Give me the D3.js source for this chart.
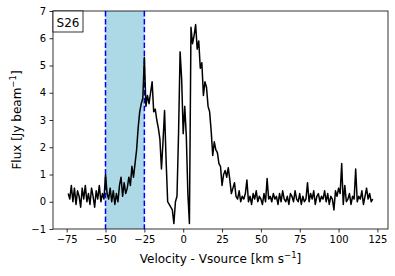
<!DOCTYPE html>
<html>
<head>
<meta charset="utf-8">
<script src="https://cdn.jsdelivr.net/npm/d3@7"></script>
<style>
  body { margin: 0; background: #fff; }
  svg text { font-family: "DejaVu Sans", sans-serif; }
</style>
</head>
<body>
<div id="chart"></div>
<script>
// velocity channels (km/s), start and step
var velStart = -74;
var velStep = 1;
// flux per channel (Jy/beam)
var flux = [
  0.3, 0.1, 0.6, 0.0, 0.5, -0.1, 0.4, 0.2, -0.2, 0.5,
  0.1, 0.6, 0.0, 0.3, -0.1, 0.5, 0.2, -0.2, 0.4, 0.1,
  0.6, 0.0, 0.3, 0.1,
  // -50
  1.0, 0.3, 0.1, 0.5, 0.0, 0.4, -0.1, 0.3, 0.0, 0.6,
  // -40
  0.9, 0.2, 0.7, 0.3, 0.5, 0.9, 0.6, 1.3, 0.9, 1.4,
  // -30
  1.9, 2.7, 3.3, 3.6, 3.8, 5.3, 3.5, 3.9, 3.6, 4.0,
  // -20
  4.4, 3.3, 3.4, 3.0, 2.7, 2.3, 1.2, 2.2, 3.35, 1.5,
  // -10
  0.0, -0.1, -0.2, -0.3, -0.8, 0.0, 0.2, 2.5, 5.5, 4.5,
  // 0
  2.5, 3.5, 2.4, 0.3, -0.8, 6.4, 5.8, 6.1, 6.5, 5.6,
  // 10
  5.9, 4.9, 5.1, 3.9, 4.4, 4.2, 3.5, 3.3, 2.6, 1.7,
  // 20
  2.2, 1.9, 1.8, 1.4, 1.3, 0.6, 1.0, 1.15, 0.9, 1.25,
  // 30
  0.8, 0.3, 0.5, 0.7, 0.2, 0.1, 0.4, 0.0, 0.2, 0.1,
  // 40
  0.3, 0.8, 0.0, 0.2, -0.1, 0.3, 0.1, 0.4, 0.0, 0.2,
  // 50
  0.1, -0.1, 0.3, 0.0, 0.85, 0.1, 0.2, 0.0, 0.3, 0.1,
  // 60
  0.2, -0.1, 0.3, 0.0, 0.4, 0.1, 0.0, 0.2, -0.1, 0.3,
  // 70
  0.2, 0.0, 0.4, 0.1, 0.0, 0.3, -0.1, 0.2, 0.0, 0.1,
  // 80
  0.7, 0.0, 0.3, 0.1, 0.4, -0.1, 0.2, 0.3, 0.0, 0.2,
  // 90
  0.1, 0.4, 0.0, 0.3, -0.1, 0.2, 0.1, -0.3, 0.4, 0.2,
  // 100
  0.5, 0.3, 1.4, -0.1, 0.6, 0.0, 0.1, 0.3, -0.1, 0.2,
  // 110
  0.1, 1.2, 0.0, 0.2, 0.1, 0.4, -0.1, 0.2, 0.5, 0.1,
  // 120
  0.3, 0.0, 0.1
];
var xTicks = [-75, -50, -25, 0, 25, 50, 75, 100, 125];
var yTicks = [-1, 0, 1, 2, 3, 4, 5, 6, 7];
var band = [-50, -25];
var sourceName = "S26";

var data = flux.map(function (f, i) {
  return { v: velStart + i * velStep, f: f };
});

var width = 395, height = 276;
var margin = { top: 11, right: 7, bottom: 47, left: 53 };
var w = width - margin.left - margin.right,
  h = height - margin.top - margin.bottom;

var svg = d3.select("#chart").append("svg")
  .attr("width", width)
  .attr("height", height);

var g = svg.append("g")
  .attr("transform", "translate(" + margin.left + "," + margin.top + ")");

// matplotlib style 5% padding on the x range
var vExt = d3.extent(data, function (d) { return d.v; });
var pad = (vExt[1] - vExt[0]) * 0.05;
var x = d3.scaleLinear().domain([vExt[0] - pad, vExt[1] + pad]).range([0, w]);
var y = d3.scaleLinear().domain([-1, 7]).range([h, 0]);

var fmt = function (d) { return String(d).replace("-", "\u2212"); };

// shaded velocity window
g.append("rect")
  .attr("x", x(band[0]))
  .attr("y", 0)
  .attr("width", x(band[1]) - x(band[0]))
  .attr("height", h)
  .attr("fill", "#add8e6");

g.selectAll(".edge")
  .data(band)
  .enter()
  .append("line")
  .attr("x1", function (d) { return x(d); })
  .attr("x2", function (d) { return x(d); })
  .attr("y1", 0)
  .attr("y2", h)
  .attr("stroke", "#0000ff")
  .attr("stroke-width", 1.5)
  .attr("stroke-dasharray", "5.5,2.4");

// spectrum
var line = d3.line()
  .x(function (d) { return x(d.v); })
  .y(function (d) { return y(d.f); });

g.append("path")
  .datum(data)
  .attr("d", line)
  .attr("fill", "none")
  .attr("stroke", "#000")
  .attr("stroke-width", 1.5)
  .attr("stroke-linejoin", "round");

// axes
var xAxis = g.append("g")
  .attr("transform", "translate(0," + h + ")")
  .call(d3.axisBottom(x).tickValues(xTicks).tickFormat(fmt).tickSizeOuter(0).tickSize(3.5).tickPadding(3.5));
var yAxis = g.append("g")
  .call(d3.axisLeft(y).tickValues(yTicks).tickFormat(fmt).tickSizeOuter(0).tickSize(3.5).tickPadding(3.5));

[xAxis, yAxis].forEach(function (a) {
  a.select(".domain").remove();
  a.selectAll("text").attr("font-size", 10).attr("fill", "#000")
    .style("font-family", "DejaVu Sans, sans-serif");
  a.selectAll("line").attr("stroke", "#000").attr("stroke-width", 0.8);
});

// frame
g.append("rect")
  .attr("width", w)
  .attr("height", h)
  .attr("fill", "none")
  .attr("stroke", "#000")
  .attr("stroke-width", 0.8);

// source label box
var lbl = g.append("g");
lbl.append("rect")
  .attr("x", 0)
  .attr("y", 0)
  .attr("width", 30)
  .attr("height", 21)
  .attr("fill", "#fff")
  .attr("stroke", "#000")
  .attr("stroke-width", 0.8);
lbl.append("text")
  .attr("x", 15)
  .attr("y", 15.5)
  .attr("text-anchor", "middle")
  .attr("font-size", 12)
  .text(sourceName);

// axis labels
var xl = svg.append("text")
  .attr("x", margin.left + w / 2)
  .attr("y", 263)
  .attr("text-anchor", "middle")
  .attr("font-size", 12);
xl.append("tspan").text("Velocity - Vsource [km s");
xl.append("tspan").attr("dy", -5).attr("font-size", 8.5).text("\u22121");
xl.append("tspan").attr("dy", 5).text("]");

var yl = svg.append("text")
  .attr("transform", "translate(21," + (margin.top + h / 2) + ") rotate(-90)")
  .attr("text-anchor", "middle")
  .attr("font-size", 12);
yl.append("tspan").text("Flux [Jy beam");
yl.append("tspan").attr("dy", -5).attr("font-size", 8.5).text("\u22121");
yl.append("tspan").attr("dy", 5).text("]");
</script>
</body>
</html>
